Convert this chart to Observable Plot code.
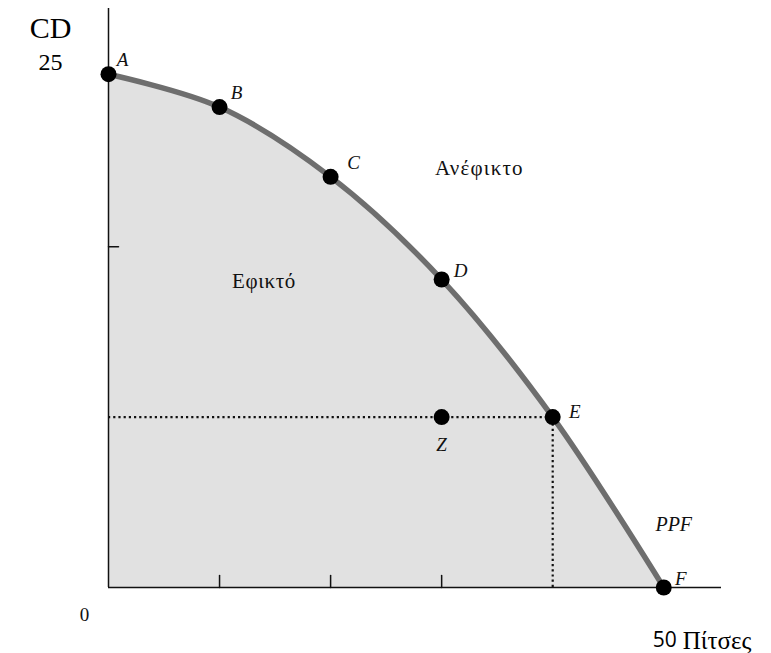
<!DOCTYPE html>
<html><head><meta charset="utf-8">
<script src="https://cdn.jsdelivr.net/npm/d3@7"></script>
<script src="https://cdn.jsdelivr.net/npm/@observablehq/plot@0.6"></script>
<style>body{margin:0;background:#fff;} #chart svg{display:block;}</style>
</head><body><div id="chart"></div>
<script>
// PPF points: pizzas (x) and CDs (y)
const pointNames = ["A", "B", "C", "D", "E", "F"];
const pizzas = [0, 10, 20, 30, 40, 50];
const cds = [25, 23.4, 20, 15, 8.3, 0];
// interior point
const insideNames = ["Z"];
const insidePizzas = [30];
const insideCds = [8.3];
// ticks
const xTicks = [10, 20, 30];
const yTicks = [16.6];
// annotations
const regionTexts = ["Ανέφικτο", "Εφικτό"];
const regionX = [33.4, 14.0];
const regionY = [20.4, 14.9];
const curveName = "PPF";
const yAxisTitle = "CD";
const yMaxLabel = "25";
const originLabel = "0";
const xMaxNumber = "50";
const xAxisTitle = "Πίτσες";

const ppf = pointNames.map((n, i) => ({name: n, x: pizzas[i], y: cds[i]}));
const inside = insideNames.map((n, i) => ({name: n, x: insidePizzas[i], y: insideCds[i]}));
const E = ppf[4];
const F = ppf[5];
const A = ppf[0];

const labelOffsets = {A: [14, -14], B: [17, -14], C: [23, -14], D: [19, -9], E: [22, -5], F: [17, -9], Z: [0, 28]};
const serif = "'Liberation Serif', 'Times New Roman', serif";
const sans = "'Open Sans', sans-serif";
const tickShape = {draw(ctx, l) { ctx.moveTo(0, 0); ctx.lineTo(0, -l); }};

const chart = Plot.plot({
  width: 771,
  height: 653,
  marginLeft: 108,
  marginRight: 50,
  marginTop: 8,
  marginBottom: 66,
  x: {domain: [0, 55.2], axis: null},
  y: {domain: [0, 28.2], axis: null},
  style: {fontFamily: serif, background: "#fff"},
  marks: [
    Plot.areaY(ppf, {x: "x", y: "y", curve: "catmull-rom", fill: "#e1e1e1"}),
    Plot.ruleY([E], {y: "y", x1: 0, x2: "x", stroke: "#111", strokeWidth: 2.2, strokeDasharray: "2.2,3"}),
    Plot.ruleX([E], {x: "x", y1: 0, y2: "y", stroke: "#111", strokeWidth: 2.2, strokeDasharray: "2.2,3"}),
    Plot.ruleX([0], {y1: 0, y2: 28.2, stroke: "#111", strokeWidth: 1.5}),
    Plot.ruleY([0], {x1: 0, x2: 55.2, stroke: "#111", strokeWidth: 1.5}),
    Plot.vector(xTicks, {x: d => d, y: 0, length: 12, rotate: 0, anchor: "start", shape: tickShape, stroke: "#111", strokeWidth: 1.5}),
    Plot.vector(yTicks, {x: 0, y: d => d, length: 10, rotate: 90, anchor: "start", shape: tickShape, stroke: "#111", strokeWidth: 1.5}),
    Plot.line(ppf, {x: "x", y: "y", curve: "catmull-rom", stroke: "#6e6e6e", strokeWidth: 5.5}),
    Plot.dot(ppf, {x: "x", y: "y", r: 8, fill: "#000"}),
    Plot.dot(inside, {x: "x", y: "y", r: 8, fill: "#000"}),
    ...ppf.concat(inside).map(p => Plot.text([p], {x: "x", y: "y", text: "name", dx: labelOffsets[p.name][0], dy: labelOffsets[p.name][1], fontSize: 19, fontStyle: "italic", fontFamily: serif, fill: "#111"})),
    Plot.text(regionTexts.map((t, i) => ({t, x: regionX[i], y: regionY[i]})), {x: "x", y: "y", text: "t", fontSize: 21, fontFamily: serif, fill: "#111", render(index, scales, values, dims, ctx, next) { const g = next(index, scales, values, dims, ctx); d3.select(g).selectAll("text").attr("letter-spacing", (d, i) => index[i] === 0 ? "1.2px" : "0.6px"); return g; }}),
    Plot.text([F], {x: "x", y: "y", text: () => curveName, dx: 10, dy: -63, fontSize: 20, fontStyle: "italic", fontFamily: serif, fill: "#111"}),
    Plot.text([A], {x: "x", y: "y", text: () => yAxisTitle, dx: -58, dy: -46, fontSize: 30, fontFamily: serif, fill: "#000"}),
    Plot.text([A], {x: "x", y: "y", text: () => yMaxLabel, dx: -58, dy: -12, fontSize: 24, fontFamily: serif, fill: "#000"}),
    Plot.text([{x: 0, y: 0}], {x: "x", y: "y", text: () => originLabel, dx: -24, dy: 27, fontSize: 19, fontFamily: serif, fill: "#111"}),
    Plot.text([F], {x: "x", y: "y", text: () => xMaxNumber, dx: -11, dy: 53, textAnchor: "start", fontSize: 21, fontFamily: sans, fill: "#000"}),
    Plot.text([F], {x: "x", y: "y", text: () => xAxisTitle, dx: 19, dy: 53, textAnchor: "start", fontSize: 25, fontFamily: serif, fill: "#000"})
  ]
});
document.getElementById("chart").appendChild(chart);
</script>
</body></html>
